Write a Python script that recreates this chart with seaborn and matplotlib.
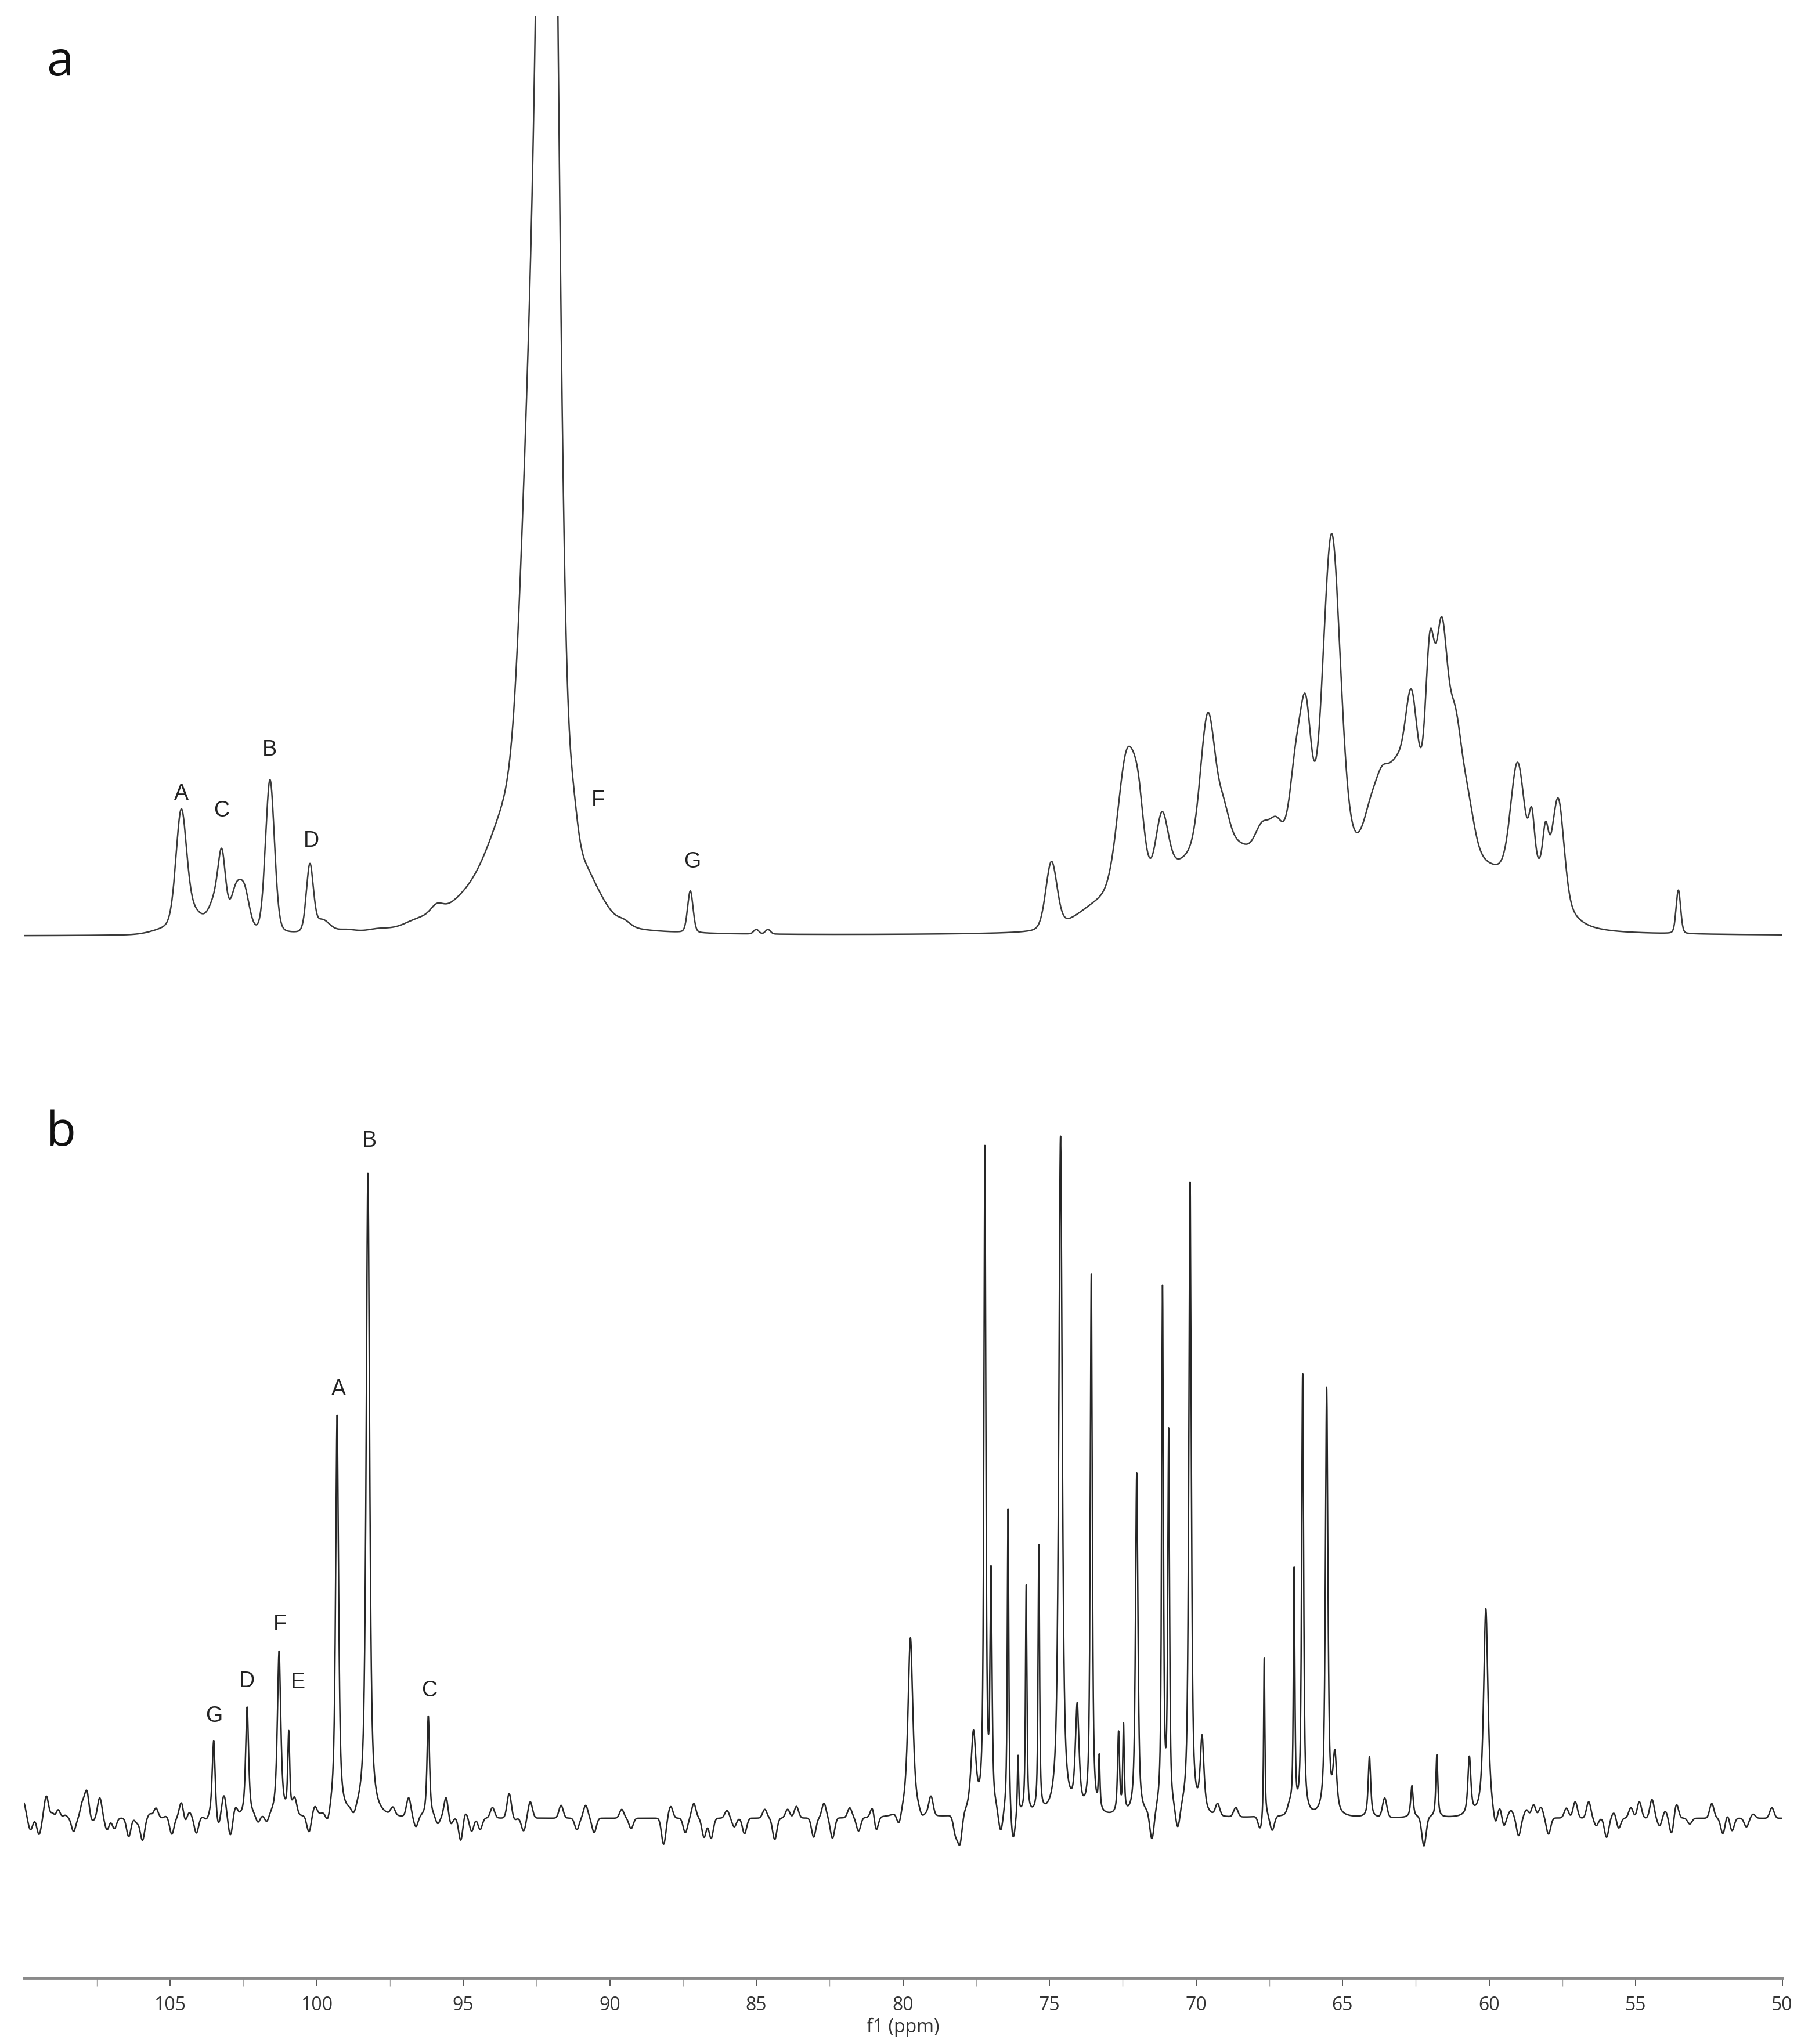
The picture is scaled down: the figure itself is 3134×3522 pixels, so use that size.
import numpy as np
import pandas as pd
import matplotlib
matplotlib.use("Agg")
import matplotlib.pyplot as plt
import seaborn as sns

# ---- panel a (broad spectrum): peak centre ppm, height, FWHM ppm ----
a_ppm = [105.3, 104.62, 104.3, 103.45, 103.23, 102.75, 102.45, 101.59, 100.23, 99.8,
         99.0, 97.9, 96.6, 95.9, 94.6, 93.4, 92.75, 92.1, 91.25, 90.9, 90.3, 89.5,
         87.25, 85.0, 84.6,
         74.93, 73.2, 70.0, 68.5, 65.0, 61.8, 59.5, 58.1,
         72.35, 71.95, 71.16, 69.59, 69.05, 67.75, 67.25, 66.6, 66.25, 65.37,
         64.05, 63.65, 63.15, 62.65, 62.02, 61.62, 61.15, 60.7, 59.03, 58.54,
         58.07, 57.63, 53.54]
a_height = [6, 185, 40, 50, 110, 70, 60, 265, 115, 22,
            6, 6, 12, 15, 55, 150, 600, 2800, 80, 60, 25, 8,
            72, 8, 8,
            115, 40, 110, 30, 130, 150, 80, 55,
            245, 90, 110, 240, 60, 60, 70, 150, 225, 550,
            60, 100, 120, 200, 245, 280, 170, 60, 190, 80,
            70, 160, 75]
a_width = [1.0, 0.42, 1.0, 0.5, 0.3, 0.45, 0.4, 0.36, 0.28, 0.6,
           0.8, 1.0, 1.2, 0.5, 2.5, 1.6, 0.75, 0.72, 0.4, 0.9, 1.0, 0.5,
           0.22, 0.2, 0.2,
           0.45, 2.0, 3.5, 1.0, 6.0, 2.0, 3.0, 1.3,
           0.75, 0.45, 0.5, 0.6, 0.5, 0.6, 0.6, 0.5, 0.45, 0.7,
           0.6, 0.6, 0.7, 0.5, 0.35, 0.45, 0.55, 0.5, 0.55, 0.22,
           0.22, 0.45, 0.18]

a_labels = ["A", "C", "B", "D", "F", "G"]
a_label_ppm = [104.62, 103.24, 101.6, 100.17, 90.39, 87.18]
a_label_y = [245, 216, 321, 164, 234, 128]

# ---- panel b (sharp spectrum) ----
b_ppm = [103.51, 102.37, 101.28, 100.95, 99.3, 98.25, 96.19,
         79.74, 77.59, 77.20, 76.99, 76.41, 76.07, 75.79, 75.36, 74.62, 74.05,
         73.57, 73.30, 72.64, 72.47, 72.02, 71.14, 70.93, 70.20, 69.79, 67.67,
         66.65, 66.36, 65.54, 65.26, 64.08, 62.63, 61.78, 60.67, 60.11]
b_height = [135, 190, 285, 140, 690, 1110, 175,
            310, 140, 1140, 400, 530, 100, 395, 460, 1170, 180,
            930, 90, 140, 150, 590, 900, 650, 1090, 130, 280,
            420, 760, 735, 100, 105, 55, 108, 100, 360]
b_width = [0.12, 0.12, 0.14, 0.08, 0.12, 0.14, 0.10,
           0.2, 0.2, 0.08, 0.08, 0.06, 0.05, 0.06, 0.06, 0.14, 0.15,
           0.08, 0.06, 0.08, 0.06, 0.1, 0.07, 0.07, 0.1, 0.15, 0.05,
           0.06, 0.08, 0.1, 0.15, 0.1, 0.1, 0.08, 0.12, 0.18]

# baseline wiggles (ppm, amplitude)
b_noise_ppm = [110.0, 109.76, 109.47, 109.22, 109.0, 108.9, 108.83, 108.58, 108.29, 107.99,
               107.84, 107.65, 107.4, 107.15, 106.9, 106.41, 106.12, 105.94, 105.68, 105.48,
               105.13, 104.94, 104.61, 104.49, 104.35, 104.1, 103.75, 103.36, 103.16, 102.94,
               102.77, 102.0, 101.7, 100.75, 100.26, 100.06, 99.62, 98.73, 97.4, 96.86,
               96.61, 95.87, 95.58, 95.43, 95.08, 94.94, 94.71, 94.42, 94.0, 93.43,
               93.24, 92.94, 92.71, 91.66, 91.12, 90.82, 90.53, 89.59, 89.27, 88.16,
               87.92, 87.42, 87.13, 86.78, 86.54, 86.0, 85.75, 85.4, 84.71, 84.37,
               83.93, 83.63, 83.04, 82.69, 82.4, 81.81, 81.51, 81.02, 80.92, 80.13,
               79.35, 79.04, 78.2, 78.05, 76.66, 76.24, 71.5, 70.62, 69.26, 68.64,
               67.8, 67.4, 66.8, 63.56, 62.22,
               59.78, 59.63, 59.5, 59.25, 58.99, 58.72, 58.48, 58.23, 57.97, 57.36,
               57.06, 56.6, 56.34, 55.99, 55.73, 55.58, 55.16, 54.87, 54.44, 54.18,
               53.99, 53.77, 53.61, 53.15, 52.4, 52.02, 51.87, 51.71, 51.22, 50.99, 50.35]
b_noise_amp = [27, -20, -28, 38, 10, -7, 18, 5, -23, 25,
               45, -5, 35, -20, -18, -32, -8, -38, 7, 17,
               3, -28, 28, -10, 10, -27, -7, -22, 35, -33,
               15, -13, -13, 27, -28, 15, -20, -13, 13, 32,
               -18, -13, 35, -13, -40, 10, -23, -20, 18, 42,
               -3, -22, 28, 22, -20, 22, -25, 15, -18, -45,
               20, -25, 25, -33, -35, 13, -15, -27, 15, -37,
               15, 20, -33, 25, -35, 17, -23, 22, -28, -22,
               -9, 32, -33, -50, -38, -52, -50, -37, 20, 16,
               -25, -25, 15, 33, -50,
               -25, 13, -20, 10, -32, 13, 22, 18, -28, 17,
               28, 28, -13, -33, 10, -18, 18, 28, 32, -13,
               12, -27, 25, -10, 25, -27, 7, -22, -15, 7, 18]

b_labels = ["G", "D", "F", "E", "A", "B", "C"]
b_label_ppm = [103.5, 102.37, 101.25, 100.64, 99.25, 98.2, 96.15]
b_label_y = [176, 236, 334, 234, 739, 1167, 220]

major_ticks = [105, 100, 95, 90, 85, 80, 75, 70, 65, 60, 55, 50]


def spectrum(grid, centres, heights, widths, eta):
    total = np.zeros_like(grid)
    for c, h, w in zip(centres, heights, widths):
        d2 = 4.0 * (grid - c) ** 2 / w ** 2
        total += h * (eta / (1.0 + d2) + (1.0 - eta) * np.exp(-np.log(2) * d2))
    return total


grid = np.arange(50.0, 110.0, 0.004)
curve_a = spectrum(grid, a_ppm, a_height, a_width, 0.2)
curve_b = (spectrum(grid, b_ppm, b_height, b_width, 0.75)
           + spectrum(grid, b_noise_ppm, b_noise_amp, [0.17] * len(b_noise_ppm), 0.0))
df = pd.DataFrame({"ppm": grid, "a": curve_a, "b": curve_b})

sns.set_theme(style="white")
plt.rcParams["font.family"] = ["Open Sans", "DejaVu Sans"]

W, H = 3134, 3522
fig = plt.figure(figsize=(W / 100, H / 100), dpi=100)
x0, x1 = 40.5, 3070.5
ax_a = fig.add_axes([x0 / W, 1 - 1700 / H, (x1 - x0) / W, (1700 - 28) / H])
ax_b = fig.add_axes([x0 / W, 1 - 3408 / H, (x1 - x0) / W, (3408 - 1800) / H])

sns.lineplot(data=df, x="ppm", y="a", ax=ax_a, color="#3a3a3a", linewidth=1.8,
             sort=False, estimator=None)
sns.lineplot(data=df, x="ppm", y="b", ax=ax_b, color="#262626", linewidth=1.8,
             sort=False, estimator=None)

ax_a.set_xlim(110, 50)
ax_a.set_ylim(-87, 1585)
ax_b.set_xlim(110, 50)
ax_b.set_ylim(-275, 1333)

for ax in (ax_a, ax_b):
    for s in ax.spines.values():
        s.set_visible(False)
    ax.set_ylabel("")
    ax.set_yticks([])
ax_a.set_xticks([])
ax_a.set_xlabel("")

ax_b.spines["bottom"].set_visible(True)
ax_b.spines["bottom"].set_color("#8a8a8a")
ax_b.spines["bottom"].set_linewidth(3.5)
ax_b.spines["bottom"].set_position(("data", -275))
ax_b.set_xticks(major_ticks)
ax_b.set_xticks([m + 2.5 for m in major_ticks[:-1]], minor=True)
ax_b.tick_params(axis="x", which="major", direction="out", length=10, width=1.4,
                 color="#555555", labelsize=23, labelcolor="#333333", pad=12, bottom=True)
ax_b.tick_params(axis="x", which="minor", direction="out", length=10, width=1.0,
                 color="#aaaaaa", bottom=True)
ax_b.set_xlabel("f1 (ppm)", fontsize=23, color="#333333", labelpad=4)

for s, p, y in zip(a_labels, a_label_ppm, a_label_y):
    ax_a.text(p, y, s, ha="center", va="center", fontsize=27, color="#222222",
              family=["Liberation Sans", "DejaVu Sans"])
for s, p, y in zip(b_labels, b_label_ppm, b_label_y):
    ax_b.text(p, y, s, ha="center", va="center", fontsize=27, color="#222222",
              family=["Liberation Sans", "DejaVu Sans"])

fig.text(80 / W, 1 - 130 / H, "a", fontsize=60, ha="left", va="baseline", color="#111111")
fig.text(80 / W, 1 - 1974 / H, "b", fontsize=60, ha="left", va="baseline", color="#111111")

fig.savefig("out.png", dpi=100)
